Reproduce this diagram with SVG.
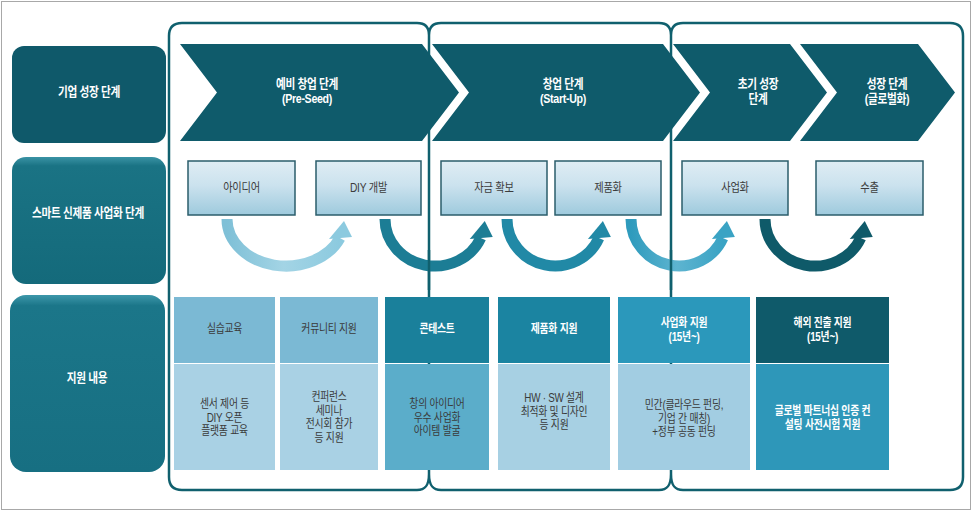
<svg xmlns="http://www.w3.org/2000/svg" width="973" height="512" viewBox="0 0 973 512">
<defs>
<linearGradient id="gBox" x1="0" y1="0" x2="0" y2="1">
<stop offset="0" stop-color="#dfedf4"/>
<stop offset="0.45" stop-color="#cbe2ee"/>
<stop offset="1" stop-color="#9ecadd"/>
</linearGradient>
<linearGradient id="gLeft2" x1="0" y1="0" x2="0" y2="1">
<stop offset="0" stop-color="#3a93a5"/>
<stop offset="0.07" stop-color="#1a7384"/>
<stop offset="1" stop-color="#146a7b"/>
</linearGradient>
<linearGradient id="gLeft3" x1="0" y1="0" x2="0" y2="1">
<stop offset="0" stop-color="#3d97aa"/>
<stop offset="0.06" stop-color="#1b7689"/>
<stop offset="1" stop-color="#176f82"/>
</linearGradient>
<linearGradient id="gA1" x1="0" y1="0" x2="1" y2="0">
<stop offset="0" stop-color="#7fc0d7"/>
<stop offset="0.5" stop-color="#a3d4e5"/>
<stop offset="1" stop-color="#8ccadf"/>
</linearGradient>
<linearGradient id="gA4" x1="0" y1="0" x2="1" y2="0">
<stop offset="0" stop-color="#2f9bbd"/>
<stop offset="0.5" stop-color="#5db4d0"/>
<stop offset="1" stop-color="#3aa3c4"/>
</linearGradient>
</defs>
<style>
text{font-family:"Liberation Sans","Noto Sans CJK KR",sans-serif;text-anchor:middle}
.lbl{font-size:13px;font-weight:bold;fill:#ffffff;letter-spacing:-0.4px}
.chev{fill:#0f5b6b}
.chevt{font-size:13px;font-weight:bold;fill:#ffffff;letter-spacing:-0.4px}
.box{fill:url(#gBox);stroke:#2b5d6b;stroke-width:1.5}
.boxt{font-size:12.5px;fill:#3c3c3c;letter-spacing:-0.3px}
.frame{fill:none;stroke:#10606e;stroke-width:2.5}
.sh{fill:none;stroke-width:11}
.ht{font-size:12px;fill:#3a3a3a;letter-spacing:-0.3px}
.hw{font-size:12px;font-weight:bold;fill:#ffffff;letter-spacing:-0.3px}
.bt{font-size:12px;fill:#3a3a3a;letter-spacing:-0.3px}
.bw{font-size:12px;font-weight:bold;fill:#ffffff;letter-spacing:-0.3px}
</style>
<rect x="0" y="0" width="973" height="512" fill="#ffffff"/>
<rect x="1.5" y="1.5" width="969" height="508" fill="none" stroke="#a8a8a8" stroke-width="1"/>

<g id="label-growth">
<rect x="12" y="46" width="154" height="97" rx="12" fill="#0f596a"/>
<g transform="translate(89 0) scale(0.82 1)"><text class="lbl" x="0" y="96">기업 성장 단계</text></g>
</g>
<g id="label-smart">
<rect x="12" y="157" width="154" height="127" rx="14" fill="url(#gLeft2)"/>
<g transform="translate(88 0) scale(0.82 1)"><text class="lbl" x="0" y="217">스마트 신제품 사업화 단계</text></g>
</g>
<g id="label-support">
<rect x="10" y="295" width="155" height="177" rx="16" fill="url(#gLeft3)"/>
<g transform="translate(87 0) scale(0.82 1)"><text class="lbl" x="0" y="382">지원 내용</text></g>
</g>

<g id="frames">
<path class="frame" d="M169,477 V36 Q169,23 182,23 H417 C425,23 429,27 429,35 C429,27 433,23 441,23 H659 C667,23 671,27 671,35 C671,27 675,23 683,23 H950 Q963,23 963,36 V477 Q963,490 950,490 H683 C675,490 671,486 671,474 C671,486 667,490 659,490 H441 C433,490 429,486 429,474 C429,486 425,490 417,490 H182 Q169,490 169,477 Z"/>
<line x1="429" y1="35" x2="429" y2="474" stroke="#10606e" stroke-width="2.5"/>
<line x1="671" y1="35" x2="671" y2="474" stroke="#10606e" stroke-width="2.5"/>
</g>

<g id="stage-preseed">
<polygon class="chev" points="180,44 422,44 459,92.5 422,141 180,141 217,92.5"/>
<g transform="translate(307 0) scale(0.82 1)">
<text class="chevt" x="0" y="88">예비 창업 단계</text>
<text class="chevt" x="0" y="103">(Pre-Seed)</text>
</g>
</g>
<g id="stage-startup">
<polygon class="chev" points="432,44 663,44 700,92.5 663,141 432,141 469,92.5"/>
<g transform="translate(563 0) scale(0.82 1)">
<text class="chevt" x="0" y="88">창업 단계</text>
<text class="chevt" x="0" y="103">(Start-Up)</text>
</g>
</g>
<g id="stage-early">
<polygon class="chev" points="673,44 790,44 827,92.5 790,141 673,141 710,92.5"/>
<g transform="translate(758 0) scale(0.82 1)">
<text class="chevt" x="0" y="88">초기 성장</text>
<text class="chevt" x="0" y="103">단계</text>
</g>
</g>
<g id="stage-growth">
<polygon class="chev" points="800,44 918,44 955,92.5 918,141 800,141 837,92.5"/>
<g transform="translate(887 0) scale(0.82 1)">
<text class="chevt" x="0" y="88">성장 단계</text>
<text class="chevt" x="0" y="103">(글로벌화)</text>
</g>
</g>

<g id="step-idea">
<rect class="box" x="188" y="161" width="107" height="54"/>
<g transform="translate(241.5 0) scale(0.82 1)"><text class="boxt" x="0" y="192.5">아이디어</text></g>
</g>
<g id="step-diy">
<rect class="box" x="316" y="161" width="105" height="54"/>
<g transform="translate(368.5 0) scale(0.82 1)"><text class="boxt" x="0" y="192.5">DIY 개발</text></g>
</g>
<g id="step-fund">
<rect class="box" x="441" y="161" width="106" height="54"/>
<g transform="translate(494 0) scale(0.82 1)"><text class="boxt" x="0" y="192.5">자금 확보</text></g>
</g>
<g id="step-product">
<rect class="box" x="555" y="161" width="106" height="54"/>
<g transform="translate(608 0) scale(0.82 1)"><text class="boxt" x="0" y="192.5">제품화</text></g>
</g>
<g id="step-business">
<rect class="box" x="682" y="161" width="106" height="54"/>
<g transform="translate(735 0) scale(0.82 1)"><text class="boxt" x="0" y="192.5">사업화</text></g>
</g>
<g id="step-export">
<rect class="box" x="816" y="161" width="107" height="54"/>
<g transform="translate(869.5 0) scale(0.82 1)"><text class="boxt" x="0" y="192.5">수출</text></g>
</g>

<g id="connectors">
<path class="sh" stroke="url(#gA1)" stroke-width="10" d="M227,219 A59,47 0 0 0 340,238"/>
<polygon fill="#8ccadf" points="344,221 329,239 352,237"/>
<path class="sh" stroke="#1c7d95" d="M385,219 A50,47 0 0 0 480.75,238"/>
<polygon fill="#1c7d95" points="484.75,221 469.75,239 492.75,237"/>
<path class="sh" stroke="#2189a6" d="M507,219 A48,47 0 0 0 598.9,238"/>
<polygon fill="#2189a6" points="602.9,221 587.9,239 610.9,237"/>
<path class="sh" stroke="url(#gA4)" d="M631,219 A48,47 0 0 0 722.9,238"/>
<polygon fill="#3aa3c4" points="726.9,221 711.9,239 734.9,237"/>
<path class="sh" stroke="#0f5a69" stroke-width="12" d="M765,219 A50,47 0 0 0 860.75,238"/>
<polygon fill="#0f5a69" points="864.75,221 849.75,239 872.75,237"/>
<line x1="429" y1="250" x2="429" y2="290" stroke="#10606e" stroke-width="2.5"/>
<line x1="671" y1="250" x2="671" y2="290" stroke="#10606e" stroke-width="2.5"/>
</g>

<g id="support-training">
<rect x="174" y="297" width="101" height="66" fill="#7bb9d4"/>
<rect x="174" y="364" width="101" height="106" fill="#a9d1e4"/>
<g transform="translate(224.5 0) scale(0.82 1)">
<text class="ht" x="0" y="333.5">실습교육</text>
<text class="bt" x="0" y="408.5">센서 제어 등</text>
<text class="bt" x="0" y="422">DIY 오픈</text>
<text class="bt" x="0" y="435.5">플랫폼 교육</text>
</g>
</g>
<g id="support-community">
<rect x="280" y="297" width="98" height="66" fill="#7bb9d4"/>
<rect x="280" y="364" width="98" height="106" fill="#a9d1e4"/>
<g transform="translate(329 0) scale(0.82 1)">
<text class="ht" x="0" y="333.5">커뮤니티 지원</text>
<text class="bt" x="0" y="401.5">컨퍼런스</text>
<text class="bt" x="0" y="415">세미나</text>
<text class="bt" x="0" y="428.5">전시회 참가</text>
<text class="bt" x="0" y="442">등 지원</text>
</g>
</g>
<g id="support-contest">
<rect x="385" y="297" width="104" height="66" fill="#1a809b"/>
<rect x="385" y="364" width="104" height="106" fill="#5badca"/>
<g transform="translate(437 0) scale(0.82 1)">
<text class="hw" x="0" y="333.5">콘테스트</text>
<text class="bt" x="0" y="408.5">창의 아이디어</text>
<text class="bt" x="0" y="422">우수 사업화</text>
<text class="bt" x="0" y="435.5">아이템 발굴</text>
</g>
</g>
<g id="support-product">
<rect x="498" y="297" width="112" height="66" fill="#1b84a1"/>
<rect x="498" y="364" width="112" height="106" fill="#a7d0e3"/>
<g transform="translate(554 0) scale(0.82 1)">
<text class="hw" x="0" y="333.5">제품화 지원</text>
<text class="bt" x="0" y="402.5">HW · SW 설계</text>
<text class="bt" x="0" y="416">최적화 및 디자인</text>
<text class="bt" x="0" y="429.5">등 지원</text>
</g>
</g>
<g id="support-business">
<rect x="618" y="297" width="132" height="66" fill="#2b98bb"/>
<rect x="618" y="364" width="132" height="106" fill="#a2cde2"/>
<g transform="translate(684 0) scale(0.82 1)">
<text class="hw" x="0" y="327.5">사업화 지원</text>
<text class="hw" x="0" y="341.5">(15년~)</text>
<text class="bt" x="0" y="409.5">민간(클라우드 펀딩,</text>
<text class="bt" x="0" y="423">기업 간 매칭)</text>
<text class="bt" x="0" y="436.5">+정부 공동 펀딩</text>
</g>
</g>
<g id="support-overseas">
<rect x="756" y="297" width="133" height="66" fill="#0f5a6a"/>
<rect x="756" y="364" width="133" height="106" fill="#2e97b9"/>
<g transform="translate(822.5 0) scale(0.82 1)">
<text class="hw" x="0" y="327.5">해외 진출 지원</text>
<text class="hw" x="0" y="341.5">(15년~)</text>
<text class="bw" x="0" y="415.5">글로벌 파트너십 인증 컨</text>
<text class="bw" x="0" y="429">설팅 사전시험 지원</text>
</g>
</g>
</svg>
